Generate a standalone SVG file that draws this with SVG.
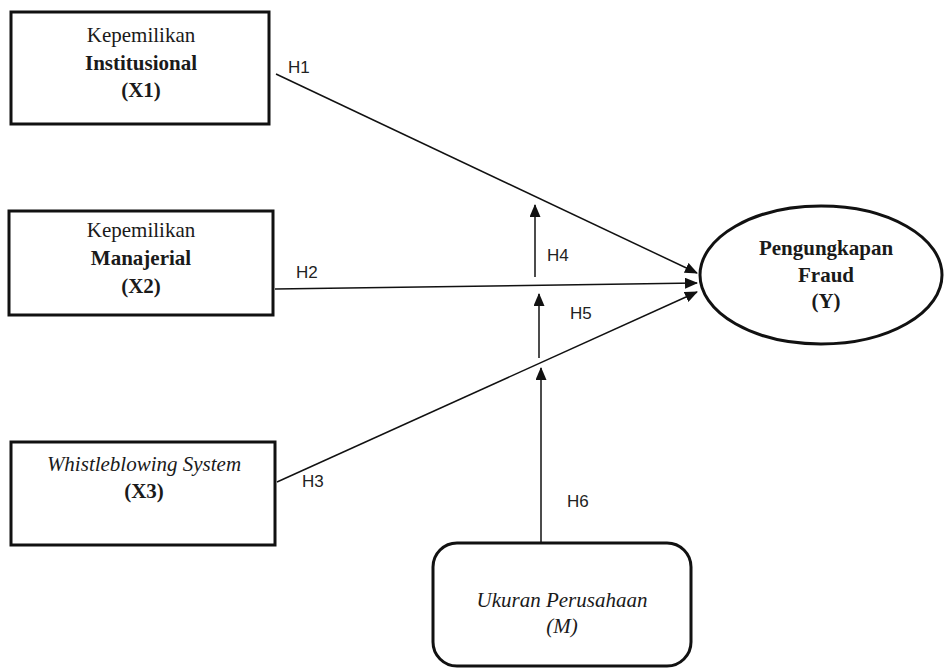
<svg xmlns="http://www.w3.org/2000/svg" width="946" height="668" viewBox="0 0 946 668">
<defs>
<marker id="arr" markerUnits="userSpaceOnUse" markerWidth="13" markerHeight="11" refX="12" refY="5.5" orient="auto">
<path d="M0,0 L13,5.5 L0,11 Z" fill="#111"/>
</marker>
<style>
.box{fill:#fff;stroke:#111;stroke-width:3}
.t{font-family:"Liberation Serif","Times New Roman",serif;font-size:21px;fill:#1a1a1a;text-anchor:middle}
.b{font-weight:bold}
.i{font-style:italic}
.lbl{font-family:"Liberation Sans",Arial,sans-serif;font-size:17px;fill:#222}
.c{stroke:#111;stroke-width:1.5;fill:none;marker-end:url(#arr)}
</style>
</defs>
<rect width="946" height="668" fill="#fff"/>
<g id="x1">
<rect class="box" x="11" y="12" width="258" height="112"/>
<text class="t" x="141" y="42">Kepemilikan</text>
<text class="t b" x="141" y="70">Institusional</text>
<text class="t b" x="141" y="97">(X1)</text>
</g>
<g id="x2">
<rect class="box" x="9" y="211" width="264" height="104"/>
<text class="t" x="141" y="237">Kepemilikan</text>
<text class="t b" x="141" y="265">Manajerial</text>
<text class="t b" x="141" y="293">(X2)</text>
</g>
<g id="x3">
<rect class="box" x="11" y="442" width="264" height="103"/>
<text class="t i" x="144" y="471">Whistleblowing System</text>
<text class="t b" x="144" y="498">(X3)</text>
</g>
<g id="y">
<ellipse class="box" cx="821" cy="275" rx="121" ry="69"/>
<text class="t b" x="826" y="255">Pengungkapan</text>
<text class="t b" x="826" y="282">Fraud</text>
<text class="t b" x="826" y="308">(Y)</text>
</g>
<g id="m">
<rect class="box" x="433" y="543" width="258" height="123" rx="24" ry="24"/>
<text class="t i" x="562" y="607">Ukuran Perusahaan</text>
<text class="t i" x="562" y="633">(M)</text>
</g>
<g id="connectors">
<line class="c" x1="276" y1="74" x2="697" y2="273"/>
<line class="c" x1="275" y1="289" x2="697" y2="283"/>
<line class="c" x1="277" y1="482" x2="697" y2="292"/>
<line class="c" x1="535" y1="277" x2="535" y2="205"/>
<line class="c" x1="539" y1="358" x2="539" y2="294"/>
<line class="c" x1="541" y1="543" x2="541" y2="368"/>
</g>
<g id="labels">
<text class="lbl" x="288" y="73">H1</text>
<text class="lbl" x="296" y="278">H2</text>
<text class="lbl" x="302" y="487">H3</text>
<text class="lbl" x="547" y="261">H4</text>
<text class="lbl" x="570" y="319">H5</text>
<text class="lbl" x="567" y="507">H6</text>
</g>
</svg>
